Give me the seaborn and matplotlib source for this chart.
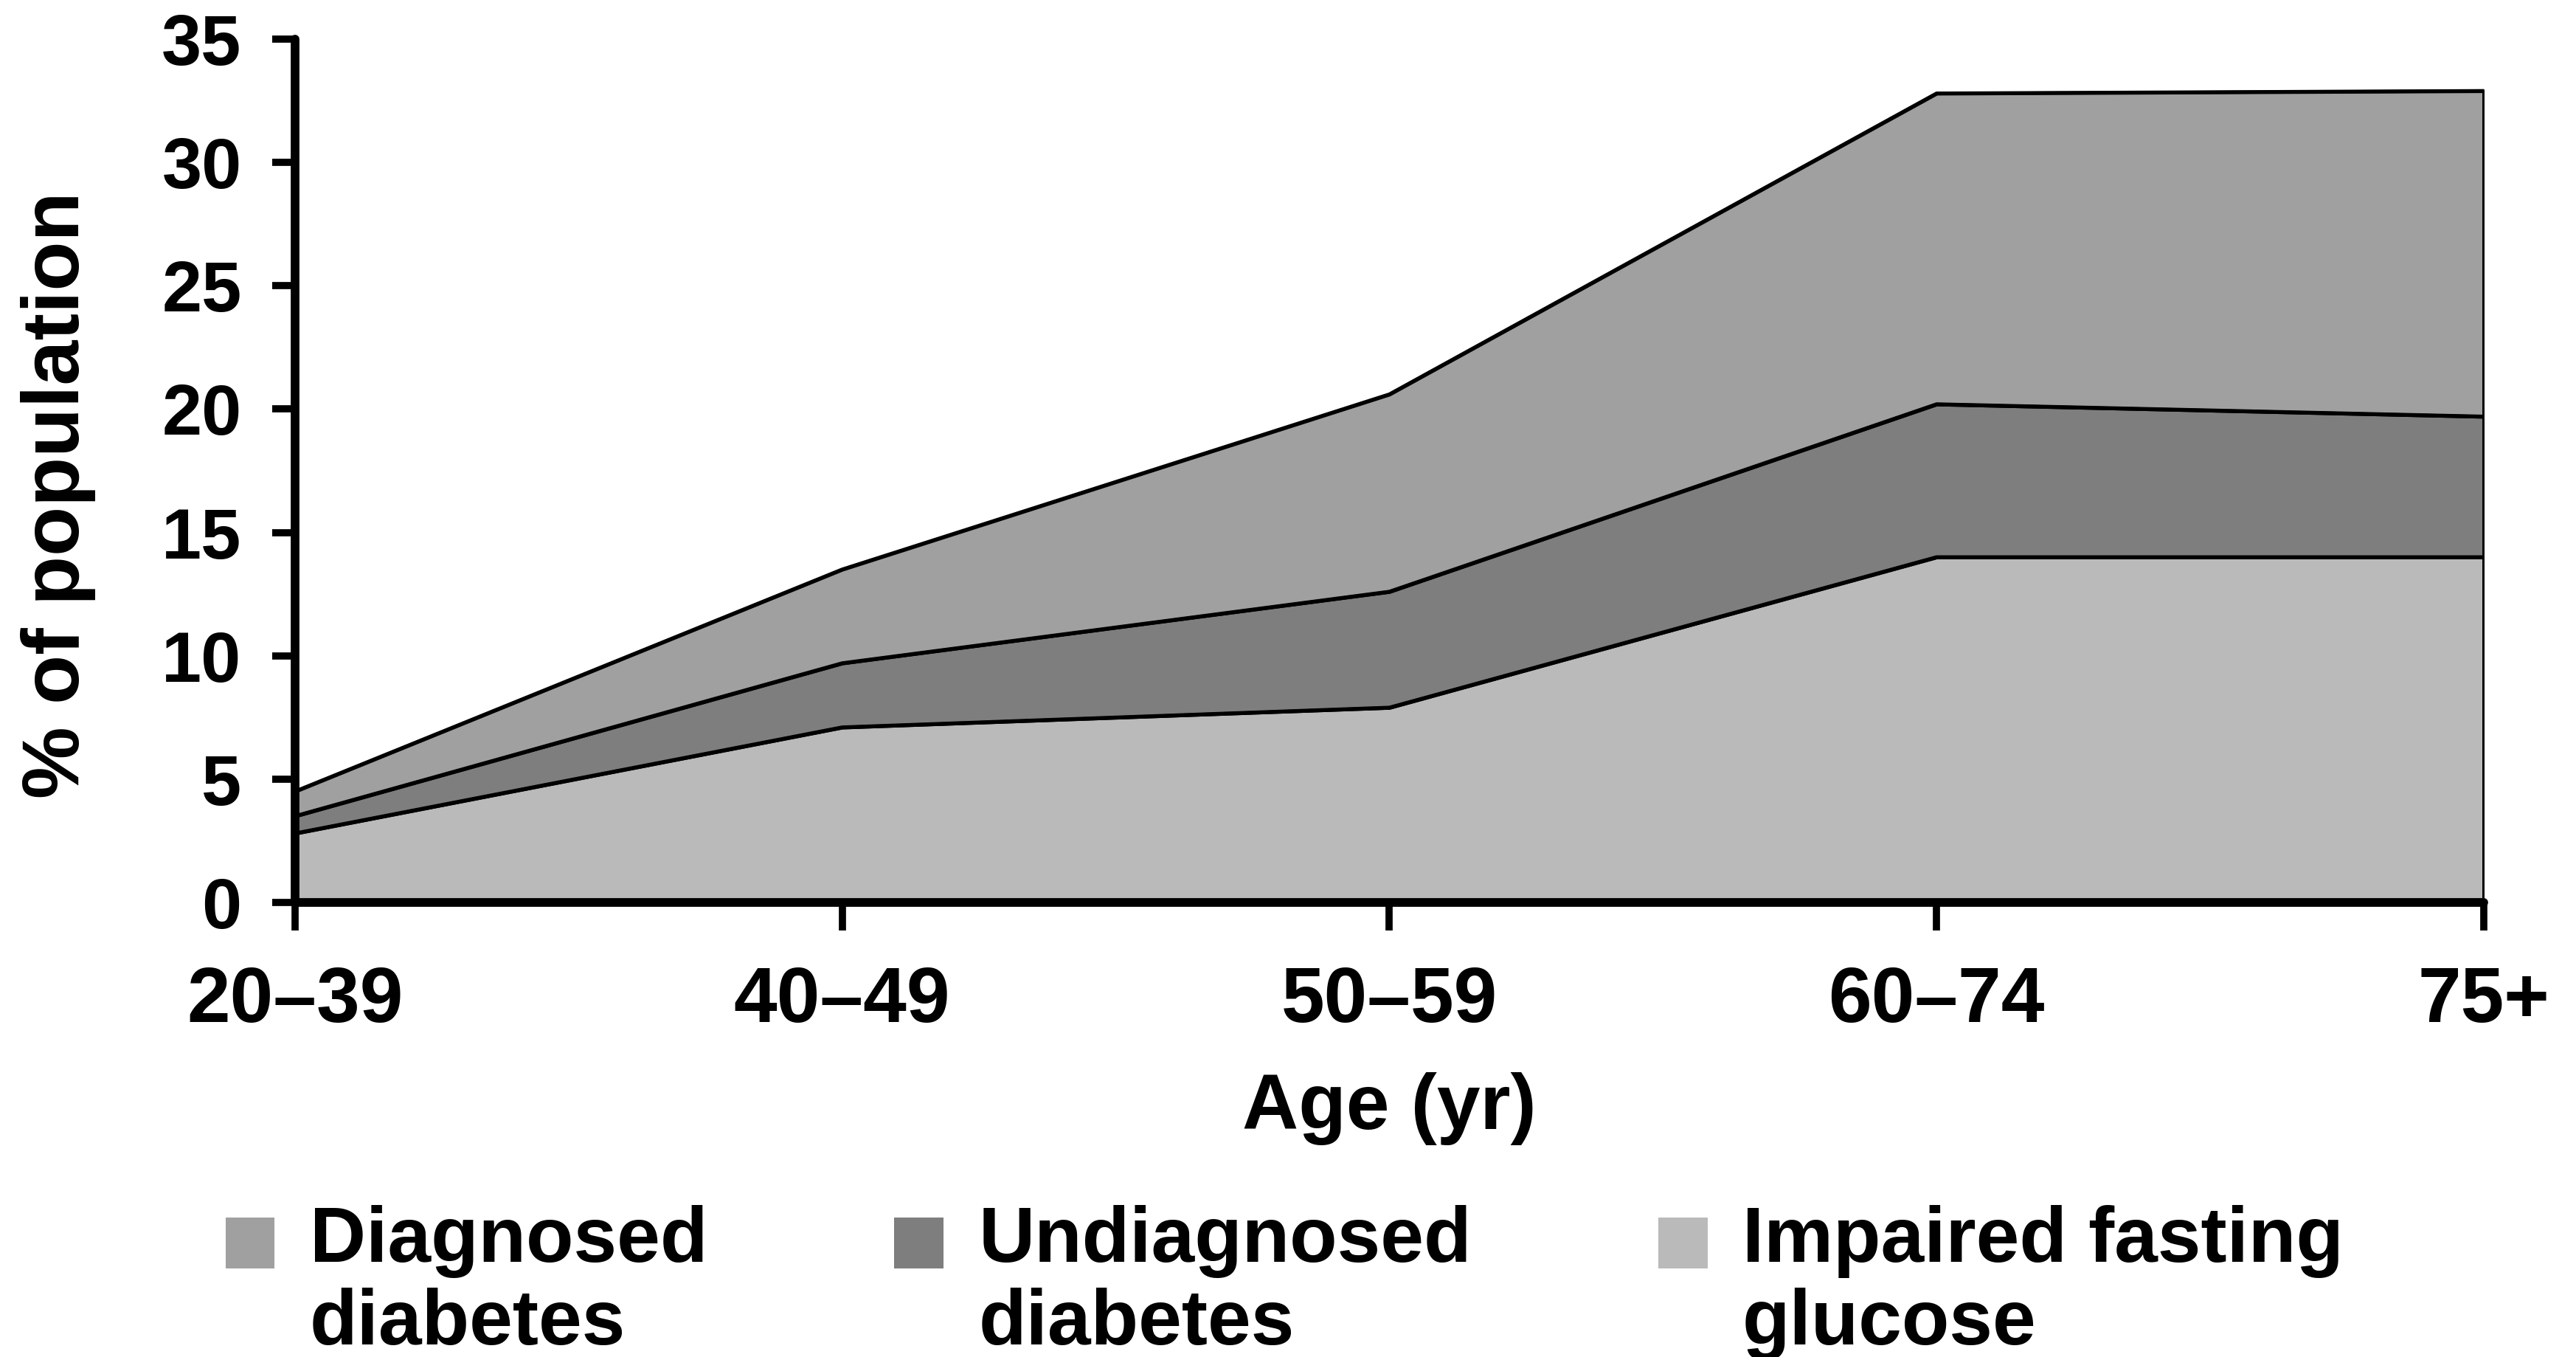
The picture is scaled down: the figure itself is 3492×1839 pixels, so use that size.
import numpy as np
import pandas as pd
import seaborn as sns
import matplotlib.pyplot as plt
from matplotlib.patches import Patch, Rectangle
from matplotlib.legend_handler import HandlerPatch

# data (percent of population, stacked)
age_groups = ['20–39', '40–49', '50–59', '60–74', '75+']
impaired_fasting = [2.8, 7.1, 7.9, 14.0, 14.0]
undiagnosed = [0.7, 2.6, 4.7, 6.2, 5.7]
diagnosed = [1.0, 3.8, 8.0, 12.6, 13.2]

series_names = ['Diagnosed\ndiabetes', 'Undiagnosed\ndiabetes', 'Impaired fasting\nglucose']
colors = {'Diagnosed\ndiabetes': '#a0a0a0',
          'Undiagnosed\ndiabetes': '#7e7e7e',
          'Impaired fasting\nglucose': '#bababa'}

df = pd.DataFrame({
    'Age': age_groups,
    'Impaired fasting\nglucose': impaired_fasting,
    'Undiagnosed\ndiabetes': undiagnosed,
    'Diagnosed\ndiabetes': diagnosed,
})
x = np.arange(len(df))

sns.set_style('white')
plt.rcParams['font.family'] = ['Liberation Sans', 'DejaVu Sans']
plt.rcParams['font.weight'] = 'bold'
plt.rcParams['text.color'] = 'black'
plt.rcParams['axes.labelcolor'] = 'black'
plt.rcParams['xtick.color'] = 'black'
plt.rcParams['ytick.color'] = 'black'

fig = plt.figure(figsize=(34.92, 18.39), dpi=100)
ax = fig.add_axes([0.1145, 0.335, 0.8497, 0.6362])

# stacked areas, bottom to top
stack_order = ['Impaired fasting\nglucose', 'Undiagnosed\ndiabetes', 'Diagnosed\ndiabetes']
ax.stackplot(x, *[df[c] for c in stack_order],
             colors=[colors[c] for c in stack_order],
             edgecolor='black', linewidth=3.5)

# outlines of each layer through seaborn
cum = df[stack_order].cumsum(axis=1)
for c in stack_order:
    sns.lineplot(x=x, y=cum[c].values, ax=ax, color='black', linewidth=3.5)
ax.plot([x[-1], x[-1]], [0, cum[stack_order[-1]].iloc[-1]], color='black', lw=3.5)

ax.set_xlim(0, len(df) - 1)
ax.set_ylim(0, 35)
ax.set_yticks(range(0, 36, 5))
ax.set_xticks(x)
ax.set_xticklabels(age_groups)

sns.despine(ax=ax)
for s in ['left', 'bottom']:
    ax.spines[s].set_linewidth(8.5)
    ax.spines[s].set_color('black')
    ax.spines[s].set_capstyle('round')

ax.tick_params(axis='y', direction='out', length=22, width=7, pad=30,
               labelsize=70, left=True, colors='black')
ax.tick_params(axis='x', direction='out', length=27, width=7, pad=34,
               labelsize=76, bottom=True, colors='black')
for lab in ax.get_xticklabels() + ax.get_yticklabels():
    lab.set_fontweight('bold')

ax.set_xlabel('Age (yr)', fontsize=76, fontweight='bold', color='black')
ax.set_ylabel('% of population', fontsize=79, fontweight='bold', color='black')
ax.xaxis.set_label_coords(0.5, -0.197)
ax.yaxis.set_label_coords(-0.091, 0.472)

leg_size = 76
line_gap = 1.17


class TopPatch(HandlerPatch):
    # put the swatch beside the first line of a two-line label
    def create_artists(self, legend, orig_handle, xdescent, ydescent,
                       width, height, fontsize, trans):
        shift = 0.5 * 0.9 * line_gap * fontsize
        p = Rectangle((-xdescent, -ydescent + shift), width, height,
                      facecolor=orig_handle.get_facecolor(), edgecolor='none',
                      transform=trans)
        return [p]


handles = [Patch(facecolor=colors[n], edgecolor='none') for n in series_names]
leg = fig.legend(handles, series_names, loc='upper left',
                 bbox_to_anchor=(0.0875, 0.112), ncol=3, frameon=False,
                 prop={'size': leg_size, 'weight': 'bold'},
                 handlelength=0.63, handleheight=0.63, handletextpad=0.45,
                 columnspacing=2.4, borderaxespad=0, borderpad=0,
                 handler_map={Patch: TopPatch()})
for t in leg.get_texts():
    t.set_linespacing(line_gap)
    t.set_color('black')

fig.savefig('out.png', dpi=100)
